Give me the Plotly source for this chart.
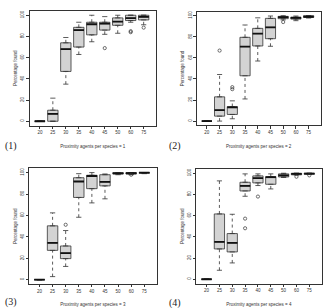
import plotly.graph_objects as go

categories = ["20", "25", "30", "35", "40", "45", "50", "60", "75"]
yticks = [0, 20, 40, 60, 80, 100]
xtitles = ["Proximity agents per species = 1", "Proximity agents per species = 2",
           "Proximity agents per species = 3", "Proximity agents per species = 4"]
panel_labels = ["(1)", "(2)", "(3)", "(4)"]

# panel 1
p1_lo  = [0, 0, 35, 63, 75, 82, 83, 93.4, 91]
p1_q1  = [0, 0, 47, 70, 81.5, 86, 90.5, 95, 95.6]
p1_med = [0, 7, 68, 86, 91.5, 92, 94, 97.2, 98.4]
p1_q3  = [0, 10.4, 74, 88.6, 93.4, 93.4, 97.5, 100, 100]
p1_hi  = [0, 21.8, 79, 93.4, 100, 98.7, 100, 100, 100]
p1_out = [[], [], [], [], [], [69], [], [85, 84], [88.3]]

# panel 2
p2_lo  = [0, 0, 2.2, 21, 57, 71, 96, 95.3, 97.8]
p2_q1  = [0, 4.7, 6.3, 43, 71.3, 78.2, 97.2, 96.8, 98.4]
p2_med = [0, 10.4, 13, 70.7, 83, 89, 98.7, 98, 99]
p2_q3  = [0, 23, 13.8, 79.5, 88, 97.5, 99.4, 98.7, 100]
p2_hi  = [0, 44.2, 19.2, 91.2, 98, 99.7, 100, 99.7, 100]
p2_out = [[], [66.9], [32.2, 30.3], [], [], [], [94], [], []]

# panel 3
p3_lo  = [0, 2.9, 12.4, 58.3, 71.7, 75.5, 98, 98, 99]
p3_q1  = [0, 27.4, 19.7, 76.8, 85, 87.6, 98.7, 98.7, 99.4]
p3_med = [0, 34.4, 24.8, 91.7, 96.8, 91.4, 99.3, 99.4, 100]
p3_q3  = [0, 50.3, 31.5, 95.2, 97.5, 98, 100, 100, 100]
p3_hi  = [0, 62.4, 45.9, 99, 100, 98.7, 100, 100, 100]
p3_out = [[], [], [51.3], [], [], [], [], [98], []]

# panel 4
p4_lo  = [0, 8.5, 15.4, 78.3, 88.4, 85.2, 96, 98.5, 99]
p4_q1  = [0, 28.6, 25.8, 83.3, 90.9, 89.6, 96.5, 98.5, 99]
p4_med = [0, 35.2, 34.3, 88, 95.3, 96.3, 98, 99.4, 99.7]
p4_q3  = [0, 61.6, 43.1, 91.5, 97.5, 96.8, 99.4, 100, 100]
p4_hi  = [0, 92.8, 61.3, 99.4, 99.4, 99.4, 100, 100, 100]
p4_out = [[], [], [], [57.2, 48.1], [78], [], [], [96.7], [98]]

panels = [
    (p1_lo, p1_q1, p1_med, p1_q3, p1_hi, p1_out),
    (p2_lo, p2_q1, p2_med, p2_q3, p2_hi, p2_out),
    (p3_lo, p3_q1, p3_med, p3_q3, p3_hi, p3_out),
    (p4_lo, p4_q1, p4_med, p4_q3, p4_hi, p4_out),
]

W, H = 328, 308
# plot frames in pixels: (left, right, top, bottom)
frames = [(29.5, 156, 11, 125.5), (196.7, 320.7, 11.5, 125.3),
          (29, 156.7, 168.3, 284), (196.3, 321.5, 169, 283.5)]
label_pos = [(3, 146), (167, 146), (3, 302), (167, 303)]

BOXW = 0.8
CAPW = 0.4
LINEC = "#333333"
fig = go.Figure()
pos = list(range(1, len(categories) + 1))

for k, (lo, q1, med, q3, hi, out) in enumerate(panels):
    xa = "x" if k == 0 else f"x{k+1}"
    ya = "y" if k == 0 else f"y{k+1}"
    # dotted whiskers
    wx, wy = [], []
    for i, p in enumerate(pos):
        wx += [p, p, None, p, p, None]
        wy += [lo[i], q1[i], None, q3[i], hi[i], None]
    fig.add_trace(go.Scatter(x=wx, y=wy, mode="lines", xaxis=xa, yaxis=ya,
                             line=dict(color=LINEC, width=0.8, dash="dot"),
                             showlegend=False, hoverinfo="skip"))
    # caps
    cx, cy = [], []
    for i, p in enumerate(pos):
        cx += [p - CAPW / 2, p + CAPW / 2, None, p - CAPW / 2, p + CAPW / 2, None]
        cy += [lo[i], lo[i], None, hi[i], hi[i], None]
    fig.add_trace(go.Scatter(x=cx, y=cy, mode="lines", xaxis=xa, yaxis=ya,
                             line=dict(color=LINEC, width=0.8),
                             showlegend=False, hoverinfo="skip"))
    # boxes
    fig.add_trace(go.Box(x=pos, q1=q1, median=med, q3=q3, lowerfence=q1,
                         upperfence=q3, xaxis=xa, yaxis=ya, width=BOXW,
                         fillcolor="#d3d3d3", line=dict(color=LINEC, width=0.8),
                         showlegend=False, boxpoints=False))
    # thick medians
    mx, my = [], []
    for i, p in enumerate(pos):
        mx += [p - BOXW / 2, p + BOXW / 2, None]
        my += [med[i], med[i], None]
    fig.add_trace(go.Scatter(x=mx, y=my, mode="lines", xaxis=xa, yaxis=ya,
                             line=dict(color="#111111", width=1.8),
                             showlegend=False, hoverinfo="skip"))
    # outliers
    ox, oy = [], []
    for i, p in enumerate(pos):
        for v in out[i]:
            ox.append(p)
            oy.append(v)
    fig.add_trace(go.Scatter(x=ox, y=oy, mode="markers", xaxis=xa, yaxis=ya,
                             marker=dict(symbol="circle-open", size=3.2,
                                         color=LINEC, line=dict(width=0.7)),
                             showlegend=False, hoverinfo="skip"))

layout = dict(width=W, height=H, margin=dict(l=0, r=0, t=0, b=0),
              paper_bgcolor="white", plot_bgcolor="white", showlegend=False)
tickfont = dict(family="Liberation Sans", size=4.5, color="#333333")
annotations = []
for k, (l, r, t, b) in enumerate(frames):
    xs = "xaxis" if k == 0 else f"xaxis{k+1}"
    ys = "yaxis" if k == 0 else f"yaxis{k+1}"
    xa = "x" if k == 0 else f"x{k+1}"
    ya = "y" if k == 0 else f"y{k+1}"
    layout[xs] = dict(domain=[l / W, r / W], anchor=ya, range=[0.2, 9.95],
                      tickmode="array", tickvals=pos, ticktext=categories,
                      showgrid=False, zeroline=False, showline=True, mirror=True,
                      linecolor=LINEC, linewidth=0.8, ticks="outside", ticklen=2.5,
                      tickwidth=0.8, tickcolor=LINEC, tickfont=tickfont,
                      title=dict(text=xtitles[k], font=dict(family="Liberation Sans", size=4.5, color="#333333"),
                                 standoff=10))
    layout[ys] = dict(domain=[1 - b / H, 1 - t / H], anchor=xa, range=[-4, 104],
                      tickmode="array", tickvals=yticks, ticktext=[str(v) for v in yticks],
                      showgrid=False, zeroline=False, showline=True, mirror=True,
                      linecolor=LINEC, linewidth=0.8, ticks="outside", ticklen=2.5,
                      tickwidth=0.8, tickcolor=LINEC, tickfont=tickfont, tickangle=-90,
                      title=dict(text="Percentage found", font=dict(family="Liberation Sans", size=4.5, color="#333333"),
                                 standoff=2))
    lx, ly = label_pos[k]
    annotations.append(dict(text=panel_labels[k], x=lx / W, y=1 - ly / H, xref="paper",
                            yref="paper", xanchor="left", yanchor="middle", showarrow=False,
                            font=dict(family="Liberation Serif", size=10, color="#222222")))
layout["annotations"] = annotations
fig.update_layout(**layout)
fig.write_html("out.html")
